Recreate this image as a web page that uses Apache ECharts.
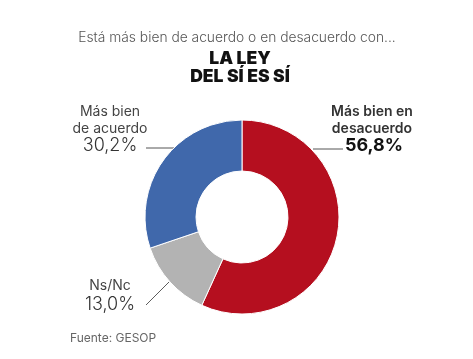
<!DOCTYPE html>
<html><head><meta charset="utf-8">
<script src="https://cdn.jsdelivr.net/npm/echarts@6/dist/echarts.min.js"></script>
<style>html,body{margin:0;padding:0;background:#fff}#c{width:473px;height:359px}</style>
</head><body><div id="c"></div>
<script>
const categories = ['Más bien en desacuerdo', 'Ns/Nc', 'Más bien de acuerdo'];
const values = [56.8, 13.0, 30.2];
const colors = ['#b50f1f', '#b3b3b3', '#4068ab'];
const fmt = v => v.toFixed(1).replace('.', ',') + '%';

const chart = echarts.init(document.getElementById('c'), null, {renderer: 'canvas'});
const F = 'Inter, "Noto Sans", sans-serif';
chart.setOption({
  animation: false,
  backgroundColor: '#fff',
  series: [{
    type: 'pie',
    center: [242, 217],
    radius: [46, 97],
    startAngle: 90,
    clockwise: true,
    label: {show: false},
    labelLine: {show: false},
    itemStyle: {borderColor: '#fff', borderWidth: 1},
    emphasis: {disabled: true},
    data: categories.map((c, i) => ({name: c, value: values[i], itemStyle: {color: colors[i]}}))
  }],
  graphic: [
    {type: 'text', x: 237, y: 31, style: {text: 'Está más bien de acuerdo o en desacuerdo con...', font: '300 13.8px ' + F, fill: '#555', align: 'center'}},
    {type: 'text', x: 240, y: 50, style: {text: 'LA LEY', font: '900 17.5px ' + F, fill: '#111', align: 'center'}},
    {type: 'text', x: 240, y: 68, style: {text: 'DEL SÍ ES SÍ', font: '900 17.5px ' + F, fill: '#111', align: 'center'}},
    // left label
    {type: 'text', x: 110, y: 103, style: {text: 'Más bien\nde acuerdo', font: '14px ' + F, fill: '#444', align: 'center', lineHeight: 17}},
    {type: 'text', x: 110, y: 137, style: {text: fmt(values[2]), font: '300 18px ' + F, fill: '#333', align: 'center'}},
    {type: 'line', shape: {x1: 146, y1: 148, x2: 175, y2: 148}, style: {stroke: '#555', lineWidth: 1}},
    // right label
    {type: 'text', x: 372, y: 103, style: {text: 'Más bien en\ndesacuerdo', font: '600 14px ' + F, fill: '#333', align: 'center', lineHeight: 17}},
    {type: 'text', x: 374, y: 137, style: {text: fmt(values[0]), font: '700 18px ' + F, fill: '#111', align: 'center'}},
    {type: 'line', shape: {x1: 313, y1: 149, x2: 343, y2: 149}, style: {stroke: '#555', lineWidth: 1}},
    // Ns/Nc
    {type: 'text', x: 110, y: 279, style: {text: 'Ns/Nc', font: '14px ' + F, fill: '#444', align: 'center'}},
    {type: 'text', x: 110, y: 296, style: {text: fmt(values[1]), font: '300 18px ' + F, fill: '#333', align: 'center'}},
    {type: 'line', shape: {x1: 146, y1: 305, x2: 183, y2: 268}, style: {stroke: '#333', lineWidth: 0.8}},
    // source
    {type: 'text', x: 70, y: 332, style: {text: 'Fuente: GESOP', font: '12px ' + F, fill: '#666'}}
  ]
});
</script></body></html>
